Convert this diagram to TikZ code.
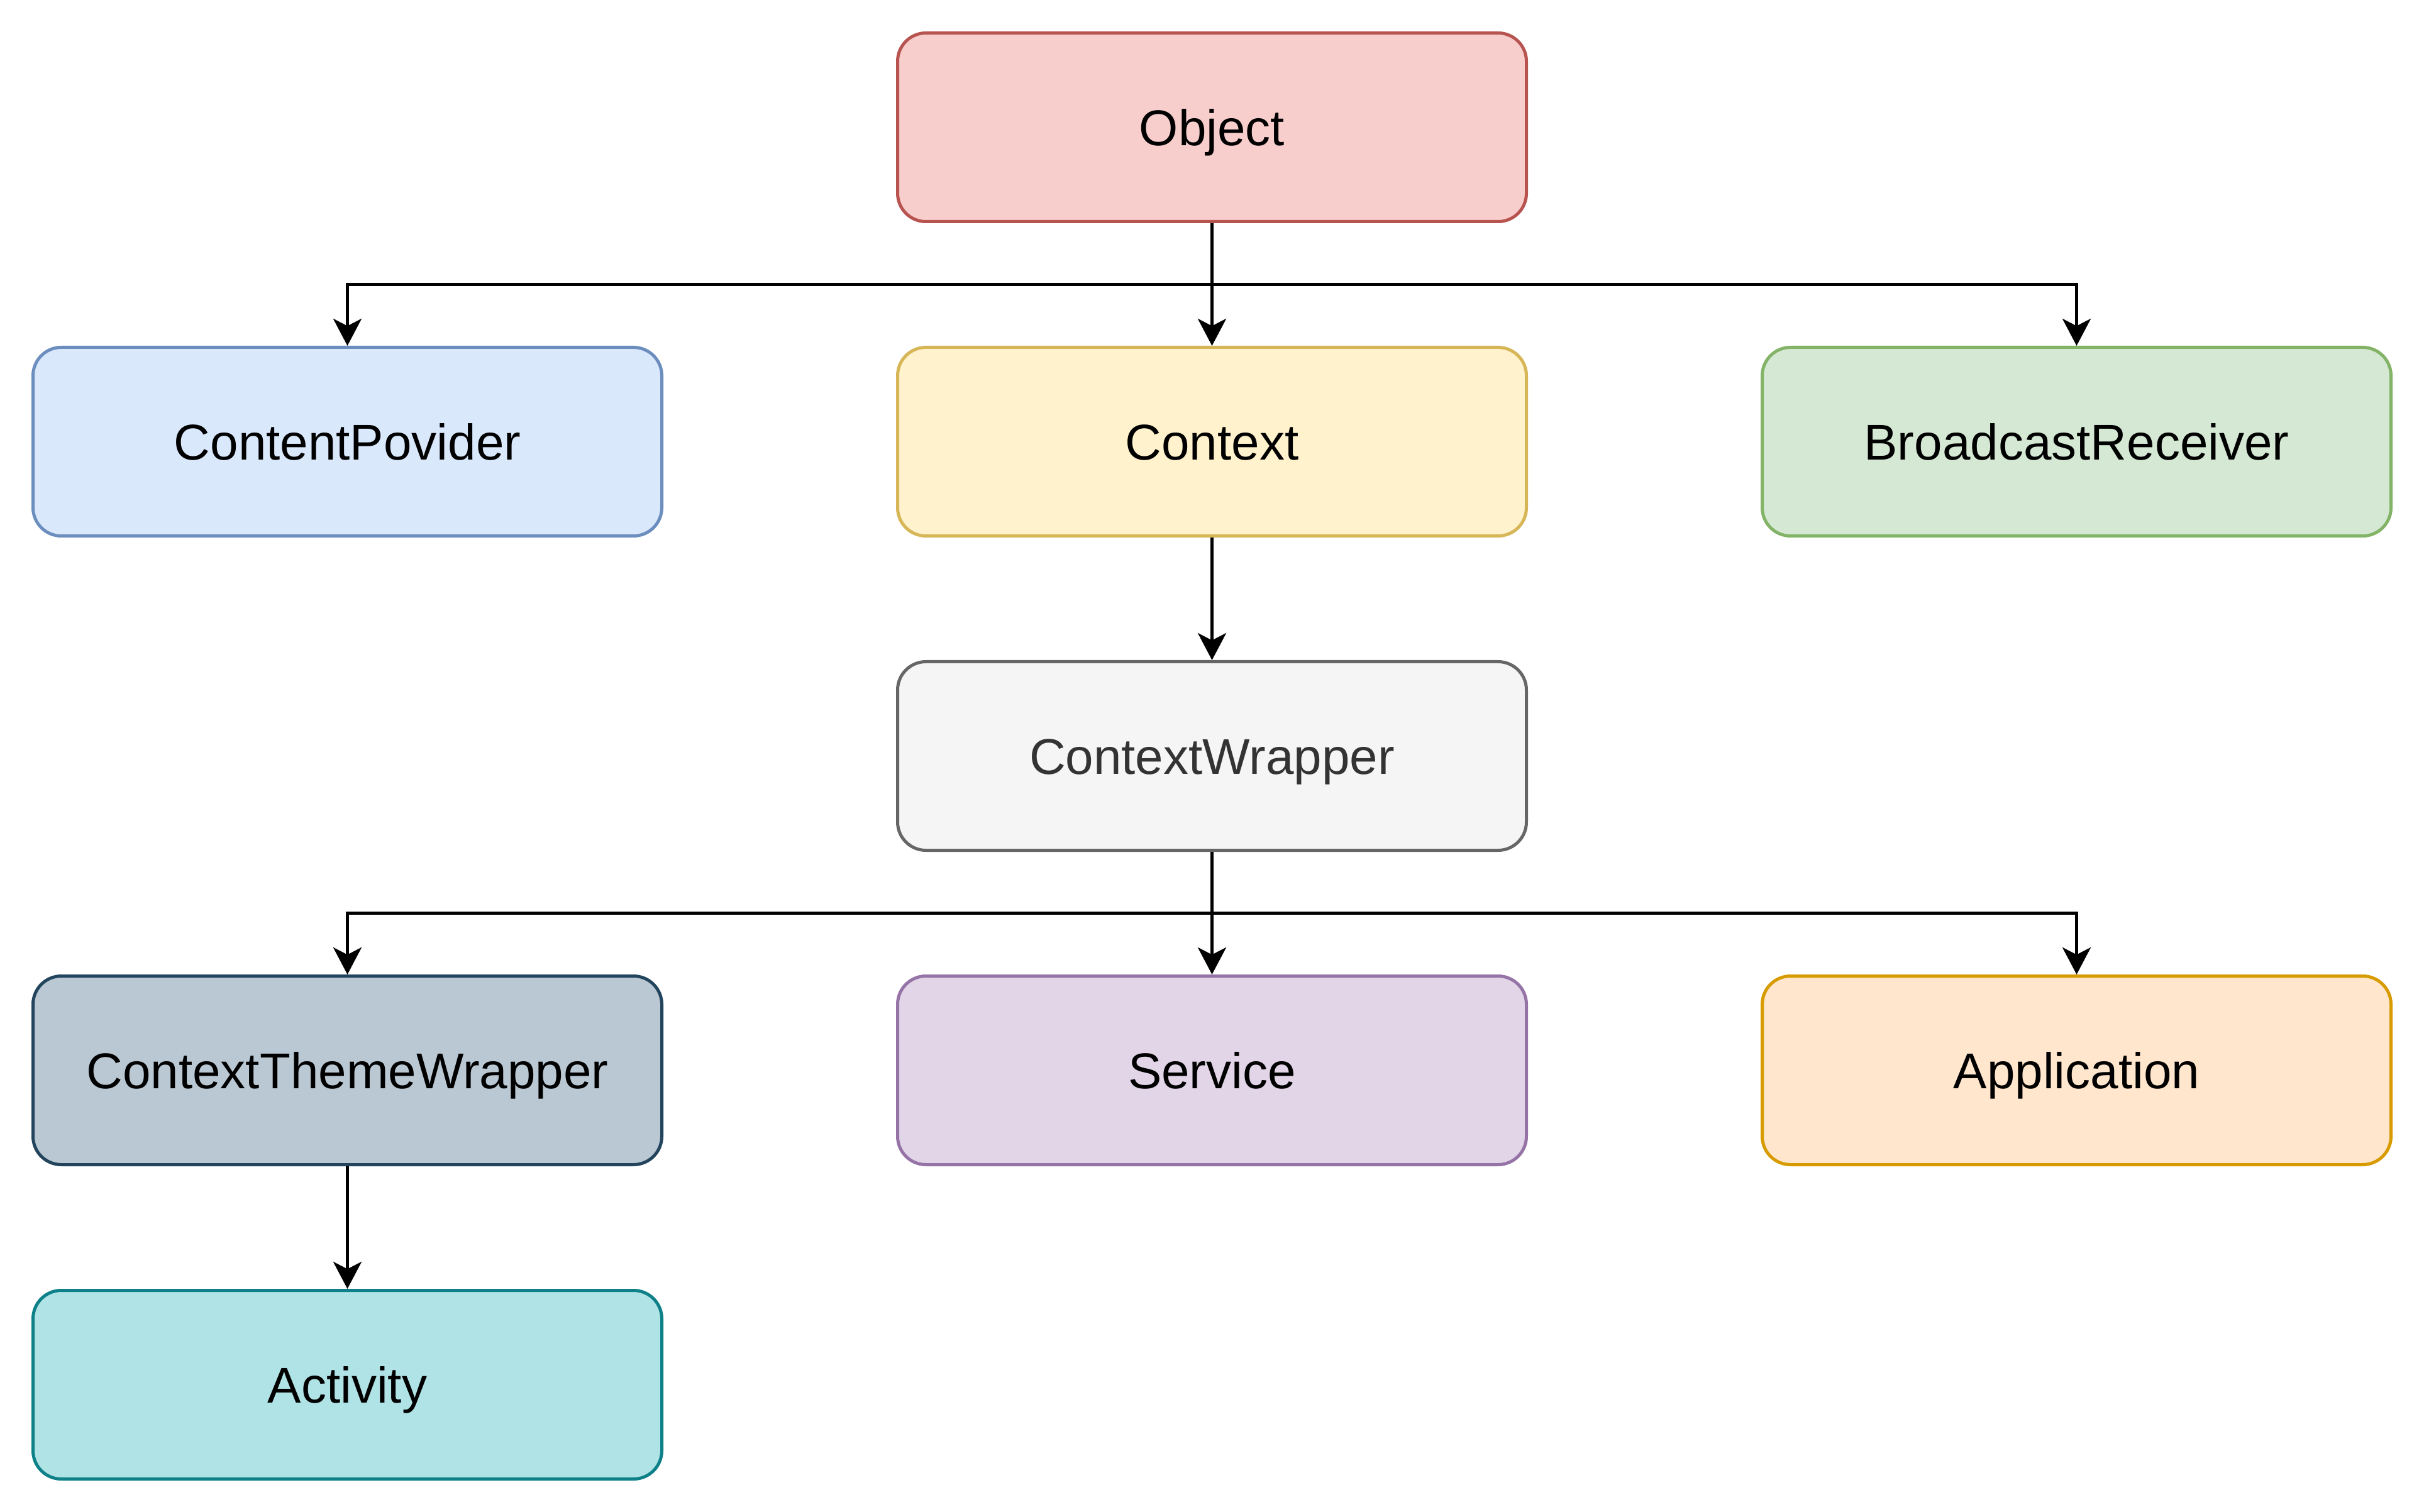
\documentclass[tikz,border=0pt]{standalone}
\usepackage{fontspec}
\setmainfont{Liberation Sans}
\usetikzlibrary{arrows.meta}

% palette
\definecolor{redF}{HTML}{F8CECC}\definecolor{redS}{HTML}{B85450}
\definecolor{blueF}{HTML}{DAE8FC}\definecolor{blueS}{HTML}{6C8EBF}
\definecolor{yelF}{HTML}{FFF2CC}\definecolor{yelS}{HTML}{D6B656}
\definecolor{grnF}{HTML}{D5E8D4}\definecolor{grnS}{HTML}{82B366}
\definecolor{gryF}{HTML}{F5F5F5}\definecolor{gryS}{HTML}{666666}\definecolor{gryT}{HTML}{333333}
\definecolor{slaF}{HTML}{BAC8D3}\definecolor{slaS}{HTML}{23445D}
\definecolor{purF}{HTML}{E1D5E7}\definecolor{purS}{HTML}{9673A6}
\definecolor{orgF}{HTML}{FFE6CC}\definecolor{orgS}{HTML}{D79B00}
\definecolor{tealF}{HTML}{B0E3E6}\definecolor{tealS}{HTML}{0E8088}

\tikzset{
  cls/.style={rectangle, rounded corners=9pt, minimum width=200pt, minimum height=60pt,
    inner sep=0pt, line width=1pt, text height=11.45pt, text depth=0pt,
    font=\fontsize{16}{19}\selectfont},
  arr/.style={line width=1pt, -{Stealth[length=8.6pt,width=9pt,inset=2.3pt]}},
}

\begin{document}
\begin{tikzpicture}[x=1pt, y=-1pt]
  \fill[white] (0,0) rectangle (771,481);
  \useasboundingbox (0,0) rectangle (771,481);

  \begin{scope}[shift={(0.5,0.5)}]
  % class boxes
  \node[cls, draw=redS,  fill=redF]  (obj)   at (385,40)  {Object};
  \node[cls, draw=blueS, fill=blueF] (cp)    at (110,140) {ContentPovider};
  \node[cls, draw=yelS,  fill=yelF]  (ctx)   at (385,140) {Context};
  \node[cls, draw=grnS,  fill=grnF]  (br)    at (660,140) {BroadcastReceiver};
  \node[cls, draw=gryS,  fill=gryF, text=gryT] (cw) at (385,240) {ContextWrapper};
  \node[cls, draw=slaS,  fill=slaF]  (ctw)   at (110,340) {ContextThemeWrapper};
  \node[cls, draw=purS,  fill=purF]  (svc)   at (385,340) {Service};
  \node[cls, draw=orgS,  fill=orgF]  (app)   at (660,340) {Application};
  \node[cls, draw=tealS, fill=tealF] (act)   at (110,440) {Activity};

  % branch points
  \coordinate (j1) at (385,90);
  \coordinate (j2) at (385,290);

  % inheritance connectors
  \draw[arr] (obj.south) -- (j1) -| (cp.north);
  \draw[arr] (obj.south) -- (ctx.north);
  \draw[arr] (obj.south) -- (j1) -| (br.north);
  \draw[arr] (ctx.south) -- (cw.north);
  \draw[arr] (cw.south) -- (j2) -| (ctw.north);
  \draw[arr] (cw.south) -- (svc.north);
  \draw[arr] (cw.south) -- (j2) -| (app.north);
  \draw[arr] (ctw.south) -- (act.north);
  \end{scope}
\end{tikzpicture}
\end{document}
